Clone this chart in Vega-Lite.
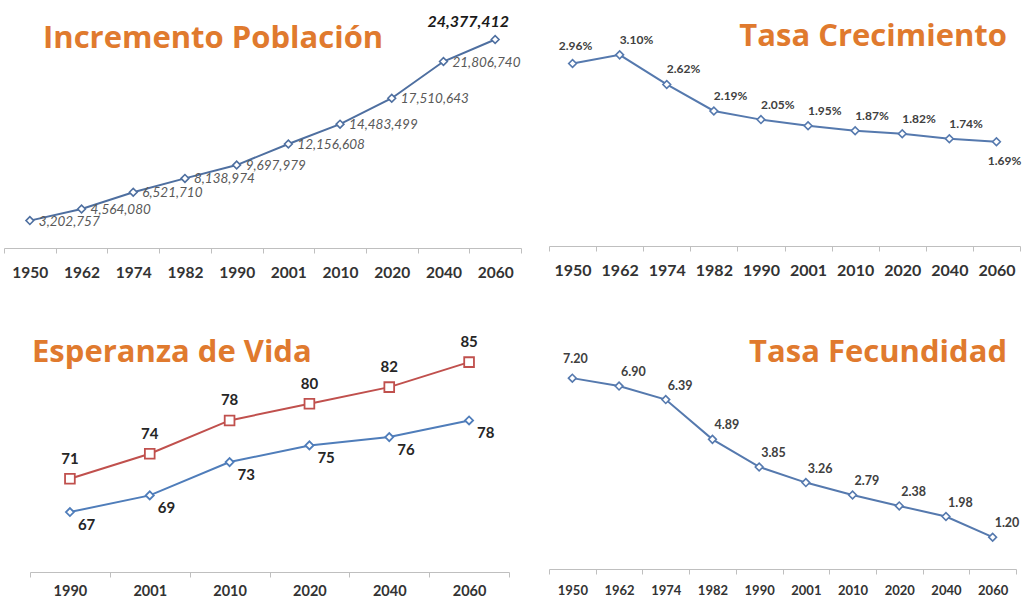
{
  "$schema": "https://vega.github.io/schema/vega-lite/v6.json",
  "padding": {"left": 3, "top": 0, "right": 0, "bottom": 0},
  "background": "white",
  "datasets": {
    "pob": [
      {"year": "1950", "value": 3202757},
      {"year": "1962", "value": 4564080},
      {"year": "1974", "value": 6521710},
      {"year": "1982", "value": 8138974},
      {"year": "1990", "value": 9697979},
      {"year": "2001", "value": 12156608},
      {"year": "2010", "value": 14483499},
      {"year": "2020", "value": 17510643},
      {"year": "2040", "value": 21806740},
      {"year": "2060", "value": 24377412}
    ],
    "tasa": [
      {"year": "1950", "value": 0.0296},
      {"year": "1962", "value": 0.031},
      {"year": "1974", "value": 0.0262},
      {"year": "1982", "value": 0.0219},
      {"year": "1990", "value": 0.0205},
      {"year": "2001", "value": 0.0195},
      {"year": "2010", "value": 0.0187},
      {"year": "2020", "value": 0.0182},
      {"year": "2040", "value": 0.0174},
      {"year": "2060", "value": 0.0169}
    ],
    "vida": [
      {"year": "1990", "serie": "Mujeres", "value": 71},
      {"year": "2001", "serie": "Mujeres", "value": 74},
      {"year": "2010", "serie": "Mujeres", "value": 78},
      {"year": "2020", "serie": "Mujeres", "value": 80},
      {"year": "2040", "serie": "Mujeres", "value": 82},
      {"year": "2060", "serie": "Mujeres", "value": 85},
      {"year": "1990", "serie": "Hombres", "value": 67},
      {"year": "2001", "serie": "Hombres", "value": 69},
      {"year": "2010", "serie": "Hombres", "value": 73},
      {"year": "2020", "serie": "Hombres", "value": 75},
      {"year": "2040", "serie": "Hombres", "value": 76},
      {"year": "2060", "serie": "Hombres", "value": 78}
    ],
    "fec": [
      {"year": "1950", "value": 7.2},
      {"year": "1962", "value": 6.9},
      {"year": "1974", "value": 6.39},
      {"year": "1982", "value": 4.89},
      {"year": "1990", "value": 3.85},
      {"year": "2001", "value": 3.26},
      {"year": "2010", "value": 2.79},
      {"year": "2020", "value": 2.38},
      {"year": "2040", "value": 1.98},
      {"year": "2060", "value": 1.2}
    ]
  },
  "bounds": "flush",
  "columns": 2,
  "spacing": {"row": 75, "column": 28},
  "concat": [
    {
      "width": 517,
      "height": 248,
      "title": {"text": "Incremento Población", "anchor": "start", "frame": "group", "offset": 0, "dx": 39, "dy": 79, "baseline": "alphabetic", "font": "Open Sans", "fontSize": 31, "fontWeight": "bold", "color": "#E07A2E"},
      "data": {"name": "pob"},
      "encoding": {
        "x": {"field": "year", "type": "nominal", "sort": null, "scale": {"type": "band", "paddingInner": 0, "paddingOuter": 0},
              "axis": {"title": null, "labelAngle": 0, "labelFontSize": 15.5, "labelPadding": 12}},
        "y": {"field": "value", "type": "quantitative", "scale": {"domain": [0, 29000000], "nice": false}, "axis": null}
      },
      "layer": [
        {"mark": {"type": "line", "color": "#4E6FA0", "strokeWidth": 2}},
        {"mark": {"type": "point", "shape": "diamond", "filled": true, "fill": "white", "stroke": "#4E6FA0", "strokeWidth": 1.6, "size": 60, "opacity": 1}},
        {"transform": [{"filter": "datum.year != '2060'"}],
         "mark": {"type": "text", "align": "left", "baseline": "middle", "dx": 9, "dy": 1, "font": "Lato", "fontStyle": "italic", "fontSize": 13.5, "color": "#595959"},
         "encoding": {"text": {"field": "value", "type": "quantitative", "format": ",d"}}},
        {"transform": [{"filter": "datum.year == '2060'"}],
         "mark": {"type": "text", "align": "right", "baseline": "middle", "dx": 14, "dy": -18, "font": "Lato", "fontStyle": "italic", "fontWeight": "bold", "fontSize": 16, "color": "#1a1a1a"},
         "encoding": {"text": {"field": "value", "type": "quantitative", "format": ",d"}}}
      ]
    },
    {
      "width": 471,
      "height": 246,
      "title": {"text": "Tasa Crecimiento", "anchor": "end", "frame": "group", "offset": 0, "dx": -13, "dy": 77, "baseline": "alphabetic", "font": "Open Sans", "fontSize": 31, "fontWeight": "bold", "color": "#E07A2E"},
      "data": {"name": "tasa"},
      "encoding": {
        "x": {"field": "year", "type": "nominal", "sort": null, "scale": {"type": "band", "paddingInner": 0, "paddingOuter": 0},
              "axis": {"title": null, "labelAngle": 0, "labelFontSize": 16, "labelPadding": 11}},
        "y": {"field": "value", "type": "quantitative", "scale": {"domain": [0, 0.0399], "nice": false}, "axis": null}
      },
      "layer": [
        {"mark": {"type": "line", "color": "#5579AE", "strokeWidth": 2}},
        {"mark": {"type": "point", "shape": "diamond", "filled": true, "fill": "white", "stroke": "#5579AE", "strokeWidth": 1.6, "size": 60, "opacity": 1}},
        {"transform": [{"filter": "datum.year != '2060' && datum.year != '1950'"}],
         "mark": {"type": "text", "align": "left", "baseline": "middle", "dx": 0, "dy": -15, "font": "Lato", "fontWeight": "bold", "fontSize": 12, "color": "#404040"},
         "encoding": {"text": {"field": "value", "type": "quantitative", "format": ".2%"}}},
        {"transform": [{"filter": "datum.year == '1950'"}],
         "mark": {"type": "text", "align": "center", "baseline": "middle", "dx": 3, "dy": -18, "font": "Lato", "fontWeight": "bold", "fontSize": 12, "color": "#404040"},
         "encoding": {"text": {"field": "value", "type": "quantitative", "format": ".2%"}}},
        {"transform": [{"filter": "datum.year == '2060'"}],
         "mark": {"type": "text", "align": "center", "baseline": "middle", "dx": 8, "dy": 19, "font": "Lato", "fontWeight": "bold", "fontSize": 12, "color": "#404040"},
         "encoding": {"text": {"field": "value", "type": "quantitative", "format": ".2%"}}}
      ]
    },
    {
      "width": 505,
      "height": 249,
      "title": {"text": "Esperanza de Vida", "anchor": "start", "frame": "group", "offset": 0, "dx": 28, "dy": 70, "baseline": "alphabetic", "font": "Open Sans", "fontSize": 31, "fontWeight": "bold", "color": "#E07A2E"},
      "data": {"name": "vida"},
      "encoding": {
        "x": {"field": "year", "type": "nominal", "sort": null, "scale": {"type": "band", "paddingInner": 0, "paddingOuter": 0, "range": [26, 505]},
              "axis": {"title": null, "labelAngle": 0, "labelFontSize": 14.5, "labelPadding": 7}},
        "y": {"field": "value", "type": "quantitative", "scale": {"domain": [59.8, 89.7], "nice": false, "zero": false}, "axis": null},
        "color": {"field": "serie", "type": "nominal", "scale": {"domain": ["Hombres", "Mujeres"], "range": ["#4F7DBA", "#C0504D"]}, "legend": null}
      },
      "layer": [
        {"mark": {"type": "line", "strokeWidth": 2}},
        {"mark": {"type": "point", "filled": true, "fill": "white", "strokeWidth": 1.8, "opacity": 1},
         "encoding": {
           "stroke": {"field": "serie", "type": "nominal", "scale": {"domain": ["Hombres", "Mujeres"], "range": ["#4F7DBA", "#C0504D"]}, "legend": null},
           "shape": {"field": "serie", "type": "nominal", "scale": {"domain": ["Hombres", "Mujeres"], "range": ["diamond", "square"]}, "legend": null},
           "size": {"field": "serie", "type": "nominal", "scale": {"domain": ["Hombres", "Mujeres"], "range": [65, 95]}, "legend": null}
         }},
        {"transform": [{"filter": "datum.serie == 'Mujeres'"}],
         "mark": {"type": "text", "align": "center", "baseline": "middle", "dy": -20, "font": "Lato", "fontWeight": "bold", "fontSize": 15, "color": "#262626"},
         "encoding": {"text": {"field": "value", "type": "quantitative", "format": "d"}, "color": {"value": "#262626"}}},
        {"transform": [{"filter": "datum.serie == 'Hombres'"}],
         "mark": {"type": "text", "align": "left", "baseline": "middle", "dx": 8, "dy": 13, "font": "Lato", "fontWeight": "bold", "fontSize": 15, "color": "#262626"},
         "encoding": {"text": {"field": "value", "type": "quantitative", "format": "d"}, "color": {"value": "#262626"}}}
      ]
    },
    {
      "width": 467,
      "height": 246,
      "title": {"text": "Tasa Fecundidad", "anchor": "end", "frame": "group", "offset": 0, "dx": -9, "dy": 70, "baseline": "alphabetic", "font": "Open Sans", "fontSize": 31, "fontWeight": "bold", "color": "#E07A2E"},
      "data": {"name": "fec"},
      "encoding": {
        "x": {"field": "year", "type": "nominal", "sort": null, "scale": {"type": "band", "paddingInner": 0, "paddingOuter": 0},
              "axis": {"title": null, "labelAngle": 0, "labelFontSize": 13, "labelPadding": 10}},
        "y": {"field": "value", "type": "quantitative", "scale": {"domain": [0, 9.28], "nice": false}, "axis": null}
      },
      "layer": [
        {"mark": {"type": "line", "color": "#5579AE", "strokeWidth": 2}},
        {"mark": {"type": "point", "shape": "diamond", "filled": true, "fill": "white", "stroke": "#5579AE", "strokeWidth": 1.6, "size": 60, "opacity": 1}},
        {"transform": [{"filter": "datum.year != '1950'"}],
         "mark": {"type": "text", "align": "left", "baseline": "middle", "dx": 2, "dy": -14, "font": "Lato", "fontWeight": "bold", "fontSize": 12.5, "color": "#404040"},
         "encoding": {"text": {"field": "value", "type": "quantitative", "format": ".2f"}}},
        {"transform": [{"filter": "datum.year == '1950'"}],
         "mark": {"type": "text", "align": "center", "baseline": "middle", "dx": 3, "dy": -19, "font": "Lato", "fontWeight": "bold", "fontSize": 12.5, "color": "#404040"},
         "encoding": {"text": {"field": "value", "type": "quantitative", "format": ".2f"}}}
      ]
    }
  ],
  "config": {
    "view": {"stroke": null},
    "font": "Lato",
    "axis": {
      "domainColor": "#BFBFBF",
      "domainWidth": 1.2,
      "tickColor": "#BFBFBF",
      "tickSize": 5,
      "tickBand": "extent",
      "grid": false,
      "labelFont": "Lato",
      "labelFontWeight": "bold",
      "labelColor": "#333333"
    }
  }
}
